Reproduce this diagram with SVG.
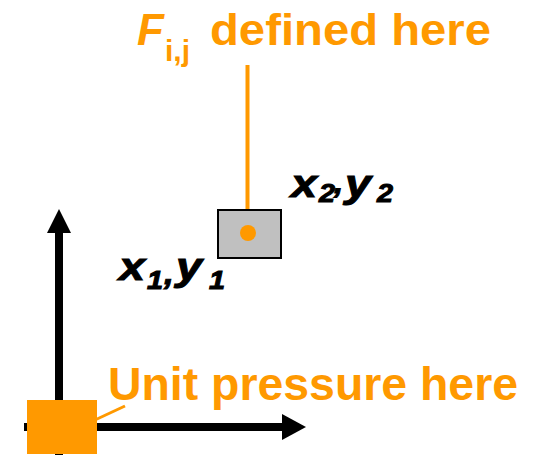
<svg xmlns="http://www.w3.org/2000/svg" width="547" height="455" viewBox="0 0 547 455">
<style>
.lbl{font-family:"Liberation Sans",Arial,sans-serif;font-weight:bold;}
.or{fill:#FF9900;}
.bk{fill:#000;stroke:#000;stroke-width:1;}
.it{font-style:italic;}
.ax{stroke:#000;stroke-width:8;fill:none;}
.ol{stroke:#FF9900;fill:none;}
</style>
<rect width="547" height="455" fill="#fff"/>
<g id="connectors">
  <line class="ax" x1="59" y1="458" x2="59" y2="232"/>
  <polygon fill="#000" points="47,233 59,209 71,233"/>
  <line class="ax" x1="24" y1="427" x2="283" y2="427"/>
  <polygon fill="#000" points="282,414 306,427 282,440"/>
  <line class="ol" stroke-width="4" x1="247.5" y1="65" x2="247.5" y2="233"/>
  <line class="ol" stroke-width="3" x1="96" y1="419.5" x2="125" y2="406"/>
</g>
<g id="element">
  <rect x="218" y="210" width="63" height="48" fill="#C0C0C0" stroke="#000" stroke-width="2"/>
  <circle cx="248" cy="233" r="8" class="or"/>
</g>
<g id="source">
  <rect x="27" y="400" width="70" height="54" class="or"/>
</g>
<g id="title">
  <text class="lbl or it" x="137" y="45" font-size="44">F</text>
  <text class="lbl or" x="165" y="61" font-size="30">i,j</text>
  <text class="lbl or" x="210" y="45" font-size="45" textLength="281" lengthAdjust="spacingAndGlyphs">defined here</text>
</g>
<g id="unit-label">
  <text class="lbl or" x="108" y="400" font-size="47" textLength="410" lengthAdjust="spacingAndGlyphs">Unit pressure here</text>
</g>
<g id="corner2">
  <text class="lbl bk it" transform="translate(291,197) scale(1.2,1)" font-size="39">x</text>
  <text class="lbl bk it" transform="translate(319,202) scale(1.15,1)" font-size="25">2</text>
  <text class="lbl bk it" transform="translate(334,193) scale(1.1,1)" font-size="30">,</text>
  <text class="lbl bk it" transform="translate(345,197) scale(1.2,1)" font-size="39">y</text>
  <text class="lbl bk it" transform="translate(377,202) scale(1.15,1)" font-size="25">2</text>
</g>
<g id="corner1">
  <text class="lbl bk it" transform="translate(119,280) scale(1.2,1)" font-size="39">x</text>
  <text class="lbl bk it" transform="translate(147,289) scale(1.15,1)" font-size="25">1</text>
  <text class="lbl bk it" transform="translate(164,284) scale(1.1,1)" font-size="32">,</text>
  <text class="lbl bk it" transform="translate(176,280) scale(1.2,1)" font-size="39">y</text>
  <text class="lbl bk it" transform="translate(209,289) scale(1.15,1)" font-size="25">1</text>
</g>
</svg>
